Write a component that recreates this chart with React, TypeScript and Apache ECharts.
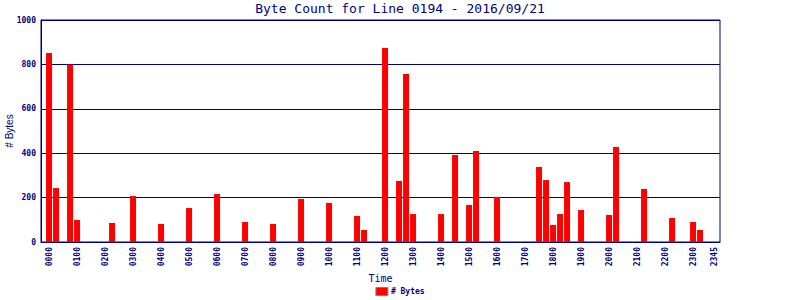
import React, { useEffect, useRef } from "react";
import * as echarts from "echarts";

const slotLabels: string[] = [];
for (let h = 0; h < 24; h++) {
  for (const m of [0, 15, 30, 45]) {
    slotLabels.push(String(h).padStart(2, "0") + String(m).padStart(2, "0"));
  }
}
const labelSlots = [0, 4, 8, 12, 16, 20, 24, 28, 32, 36, 40, 44, 48, 52, 56, 60, 64, 68, 72, 76, 80, 84, 88, 92, 95];

const barSlots = [0, 1, 3, 4, 9, 12, 16, 20, 24, 28, 32, 36, 40, 44, 45, 48, 50, 51, 52, 56, 58, 60, 61, 64, 70, 71, 72, 73, 74, 76, 80, 81, 85, 89, 92, 93];
const byteValues = [851, 243, 800, 99, 86, 207, 81, 153, 216, 90, 81, 194, 176, 117, 54, 874, 275, 757, 126, 126, 392, 167, 410, 203, 338, 279, 77, 126, 270, 144, 122, 428, 239, 108, 90, 54];
const yTicks = [0, 200, 400, 600, 800, 1000];

const NAVY = "#000080";

export default function App() {
  const ref = useRef<HTMLDivElement>(null);
  useEffect(() => {
    if (!ref.current) return;
    const chart = echarts.init(ref.current, null, { renderer: "svg" });
    chart.setOption({
      animation: false,
      backgroundColor: "#ffffff",
      title: {
        text: "Byte Count for Line 0194 - 2016/09/21",
        left: "center",
        top: -3,
        textStyle: { fontFamily: "DejaVu Sans Mono", fontSize: 13, fontWeight: "normal", color: NAVY },
      },
      legend: {
        bottom: -1,
        left: "center",
        icon: "rect",
        itemWidth: 12,
        itemHeight: 8,
        itemGap: 4,
        textStyle: { fontFamily: "DejaVu Sans Mono", fontSize: 8, fontWeight: "bold", color: NAVY, padding: [0, 0, 0, -2] },
        itemStyle: { borderColor: "#808080", borderWidth: 1 },
        data: ["# Bytes"],
      },
      grid: {
        left: 41,
        right: 80,
        top: 20,
        bottom: 58,
        show: true,
        borderColor: NAVY,
        borderWidth: 1,
        containLabel: false,
        outerBoundsMode: "none",
      },
      xAxis: {
        type: "value",
        min: -1.15,
        max: 95.85,
        name: "Time",
        nameLocation: "middle",
        nameGap: 31,
        nameMoveOverlap: false,
        nameTextStyle: { fontFamily: "DejaVu Sans Mono", fontSize: 10, color: NAVY },
        axisLine: { show: true, onZero: false, lineStyle: { color: NAVY, width: 1 } },
        axisTick: { show: false },
        splitLine: { show: false },
        axisLabel: {
          customValues: labelSlots,
          rotate: 90,
          margin: 5,
          fontFamily: "DejaVu Sans Mono",
          fontSize: 8,
          fontWeight: "bold",
          color: NAVY,
          formatter: (v: number) => slotLabels[Math.round(v)] ?? "",
        },
      },
      yAxis: {
        type: "value",
        min: 0,
        max: 1000,
        interval: 200,
        name: "# Bytes",
        nameLocation: "middle",
        nameGap: 27,
        nameMoveOverlap: false,
        nameTextStyle: { fontFamily: "Liberation Sans", fontSize: 10, color: NAVY },
        axisLine: { show: true, onZero: false, lineStyle: { color: NAVY, width: 1 } },
        axisTick: { show: false },
        splitLine: { show: true, lineStyle: { color: NAVY, width: 1 } },
        axisLabel: {
          customValues: yTicks,
          margin: 5,
          fontFamily: "DejaVu Sans Mono",
          fontSize: 8,
          fontWeight: "bold",
          color: NAVY,
          formatter: (v: number) => String(v),
        },
      },
      series: [
        {
          name: "# Bytes",
          type: "bar",
          barWidth: 6,
          itemStyle: { color: "#ff0000" },
          data: barSlots.map((s, i) => [s, byteValues[i]]),
        },
      ],
    });
    return () => chart.dispose();
  }, []);
  return <div ref={ref} style={{ width: 800, height: 300, position: "absolute", left: 0, top: 0 }} />;
}
